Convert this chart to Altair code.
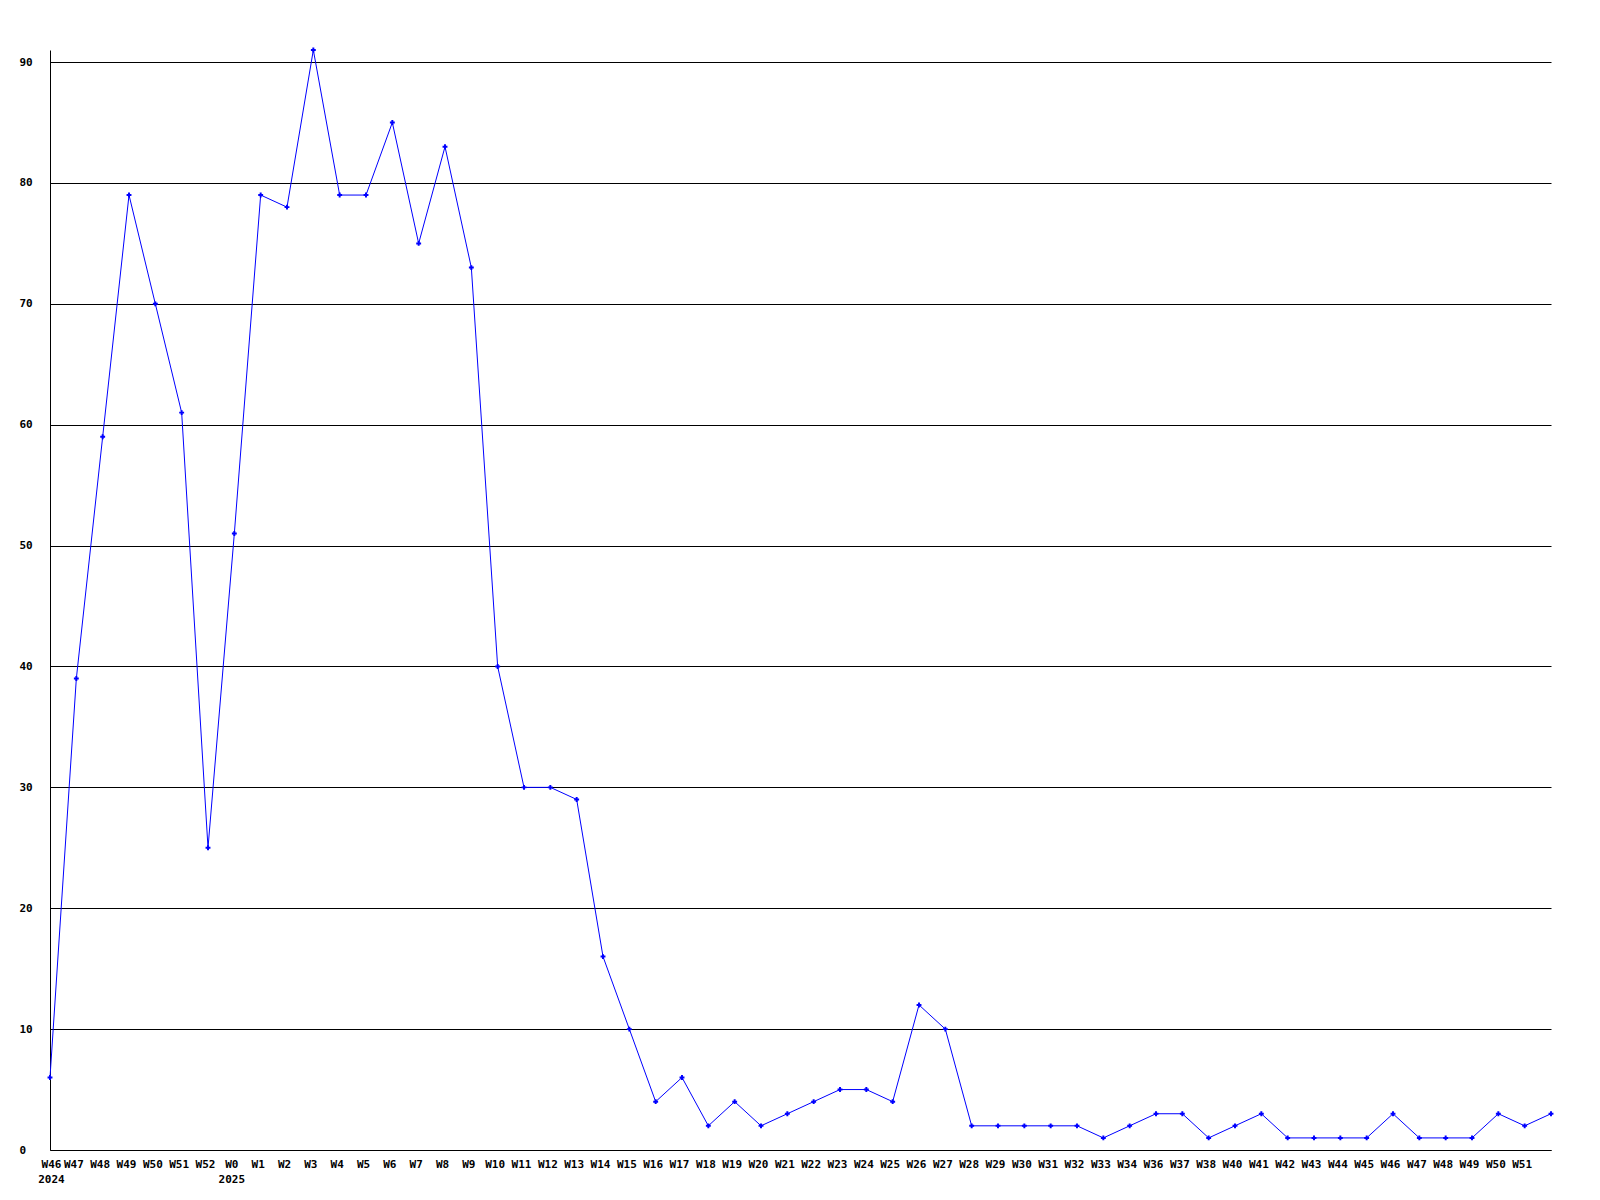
import json
import altair as alt
import pandas as pd

weeks = ["W46", "W47", "W48", "W49", "W50", "W51", "W52",
         "W0", "W1", "W2", "W3", "W4", "W5", "W6", "W7", "W8", "W9",
         "W10", "W11", "W12", "W13", "W14", "W15", "W16", "W17", "W18", "W19",
         "W20", "W21", "W22", "W23", "W24", "W25", "W26", "W27", "W28", "W29",
         "W30", "W31", "W32", "W33", "W34", "W36", "W37", "W38", "W40", "W41",
         "W42", "W43", "W44", "W45", "W46", "W47", "W48", "W49", "W50", "W51", ""]
years = {0: "2024", 7: "2025"}
values = [6, 39, 59, 79, 70, 61, 25,
          51, 79, 78, 91, 79, 79, 85, 75, 83, 73,
          40, 30, 30, 29, 16, 10, 4, 6, 2, 4,
          2, 3, 4, 5, 5, 4, 12, 10, 2, 2,
          2, 2, 2, 1, 2, 3, 3, 1, 2, 3,
          1, 1, 1, 1, 3, 1, 1, 1, 3, 2, 3]
y_ticks = [0, 10, 20, 30, 40, 50, 60, 70, 80, 90]

labels = [[w, years[i]] if i in years else w for i, w in enumerate(weeks)]
df = pd.DataFrame({"idx": list(range(len(values))), "value": values})

FONT = "DejaVu Sans Mono"
label_expr = json.dumps(labels) + "[datum.value]"

x = alt.X("idx:O", scale=alt.Scale(type="point", padding=0),
          axis=alt.Axis(title=None, labelExpr=label_expr, labelAngle=0,
                        ticks=False, grid=False, labelOverlap=False, labelBound=False,
                        labelAlign="center", labelBaseline="top",
                        labelOffset={"condition": {"test": "datum.value == 0", "value": 1}, "value": -3},
                        labelPadding=8, labelLineHeight=15,
                        labelFont=FONT, labelFontWeight="bold", labelFontSize=11,
                        labelColor="black", domainColor="black"))
y = alt.Y("value:Q", scale=alt.Scale(domain=[0, 91], nice=False, zero=True),
          axis=alt.Axis(title=None, values=y_ticks, ticks=False, grid=True,
                        gridColor="black", gridOpacity=1, gridWidth=1,
                        labelAlign="left", labelPadding=31, labelBaseline="middle",
                        labelFont=FONT, labelFontWeight="bold", labelFontSize=11,
                        labelColor="black", domainColor="black"))

base = alt.Chart(df).encode(x=x, y=y)
line = base.mark_line(color="#0000ff", strokeWidth=1)
pts = base.mark_point(shape="cross", filled=True, size=24, color="#0000ff", opacity=1)

chart = (line + pts).properties(
    width=1501, height=1100,
    autosize=alt.AutoSizeParams(type="none"),
    padding={"left": 42, "top": 42, "right": 30, "bottom": 40},
).configure_view(stroke=None)

chart.save("out.html", embed_options={"renderer": "svg", "actions": False})
